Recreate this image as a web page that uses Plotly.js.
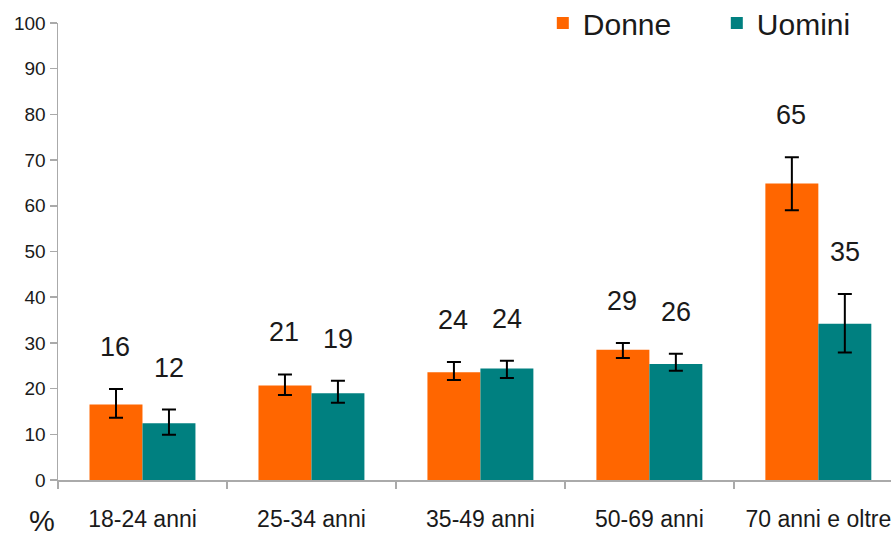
<!DOCTYPE html>
<html>
<head>
<meta charset="utf-8">
<script src="https://cdn.plot.ly/plotly-3.0.1.min.js"></script>
<style>html,body{margin:0;padding:0;background:#fff;}#chart{width:891px;height:536px;}</style>
</head>
<body>
<div id="chart"></div>
<script>
var categories = ["18-24 anni", "25-34 anni", "35-49 anni", "50-69 anni", "70 anni e oltre"];
var donne = [16.5, 20.7, 23.6, 28.5, 64.9];
var donneErrPlus = [3.4, 2.4, 2.2, 1.5, 5.7];
var donneErrMinus = [2.9, 2.1, 1.7, 1.8, 5.9];
var donneLabels = ["16", "21", "24", "29", "65"];
var uomini = [12.4, 19.0, 24.4, 25.4, 34.2];
var uominiErrPlus = [3.0, 2.7, 1.7, 2.2, 6.5];
var uominiErrMinus = [2.5, 2.1, 2.1, 1.5, 6.3];
var uominiLabels = ["12", "19", "24", "26", "35"];

var font = "Liberation Sans, Arial, Helvetica, sans-serif";

var traces = [
  {type: "bar", name: "Donne", x: categories, y: donne,
   marker: {color: "#FF6600"},
   error_y: {type: "data", symmetric: false, array: donneErrPlus, arrayminus: donneErrMinus,
             color: "#000", thickness: 2, width: 7},
   hoverinfo: "none"},
  {type: "bar", name: "Uomini", x: categories, y: uomini,
   marker: {color: "#008080"},
   error_y: {type: "data", symmetric: false, array: uominiErrPlus, arrayminus: uominiErrMinus,
             color: "#000", thickness: 2, width: 7},
   hoverinfo: "none"}
];

var annotations = [];
function addLabels(vals, plus, labels, xshift) {
  for (var i = 0; i < vals.length; i++) {
    annotations.push({
      x: categories[i], y: vals[i] + plus[i], xref: "x", yref: "y",
      text: labels[i], showarrow: false, xshift: xshift, yshift: 42,
      yanchor: "middle",
      font: {family: font, size: 27, color: "#1a1a1a"}
    });
  }
}
addLabels(donne, donneErrPlus, donneLabels, -27);
addLabels(uomini, uominiErrPlus, uominiLabels, 27);
annotations.push({
  xref: "paper", yref: "paper", x: -0.019, y: -0.09, xanchor: "center", yanchor: "middle",
  text: "%", showarrow: false, font: {family: font, size: 29, color: "#1a1a1a"}
});

var layout = {
  width: 891, height: 536,
  margin: {l: 58, r: 0, t: 23, b: 56, autoexpand: false},
  paper_bgcolor: "#fff", plot_bgcolor: "#fff",
  barmode: "group", bargap: 0.373, bargroupgap: 0,
  showlegend: true,
  legend: {orientation: "h", x: 0.582, y: 1.0, xanchor: "left", yanchor: "middle",
           font: {family: font, size: 30, color: "#1a1a1a"}, itemwidth: 30,
           entrywidth: 129, entrywidthmode: "pixels",
           tracegroupgap: 0, bgcolor: "rgba(0,0,0,0)"},
  xaxis: {
    type: "category", range: [-0.5, 4.43], tickangle: 0, automargin: false,
    showline: true, linecolor: "#aaaaaa", linewidth: 1.5,
    ticks: "outside", tickson: "boundaries", ticklen: 7, tickcolor: "#aaaaaa", tickwidth: 1.5,
    ticklabelstandoff: 18,
    tickfont: {family: font, size: 23, color: "#1a1a1a"},
    showgrid: false, zeroline: false, fixedrange: true
  },
  yaxis: {
    range: [0, 100], dtick: 10, tick0: 0, automargin: false,
    showline: true, linecolor: "#aaaaaa", linewidth: 1.5,
    ticks: "outside", ticklen: 7, tickcolor: "#aaaaaa", tickwidth: 1.5,
    tickfont: {family: font, size: 19, color: "#1a1a1a"},
    showgrid: false, zeroline: false, fixedrange: true
  },
  annotations: annotations
};

Plotly.newPlot("chart", traces, layout, {displayModeBar: false, staticPlot: true});
</script>
</body>
</html>
